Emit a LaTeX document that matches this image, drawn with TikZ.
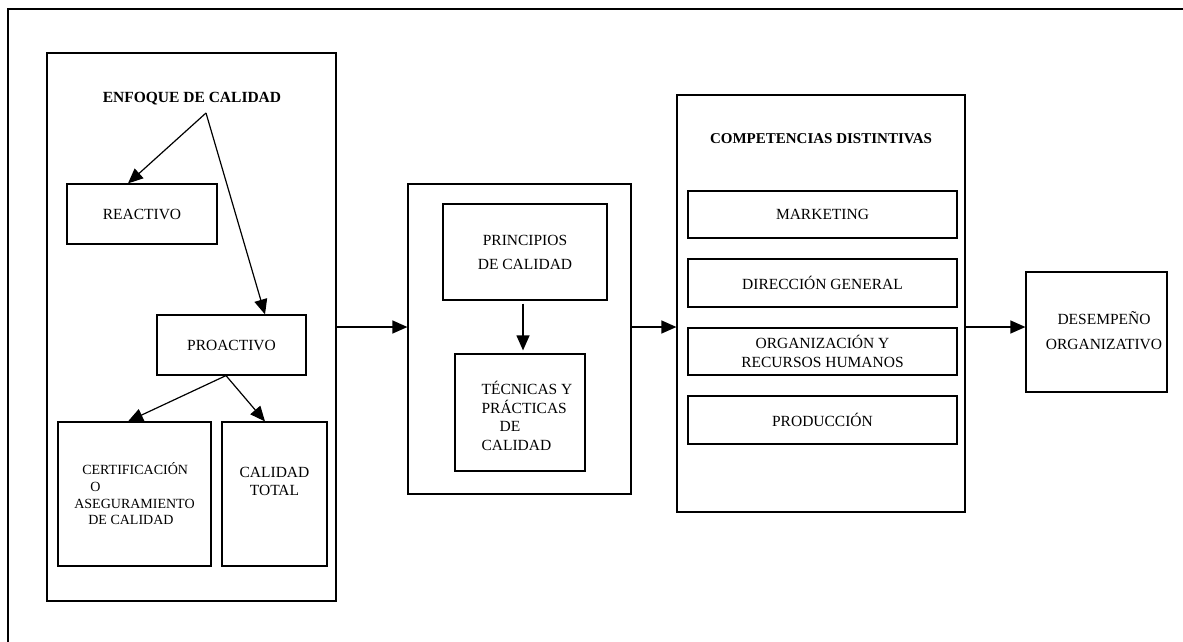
\documentclass[tikz,border=0pt]{standalone}
\usepackage{fontspec}
\setmainfont{Liberation Serif}
\usetikzlibrary{arrows.meta}
\begin{document}
\begin{tikzpicture}[x=1pt,y=-1pt,
  box/.style={draw, line width=1.2pt, inner sep=0pt, align=center,
    font=\fontsize{15.5}{19}\selectfont},
  txt/.style={inner sep=0pt, font=\fontsize{15.5}{19}\selectfont},
  title/.style={inner sep=0pt, font=\fontsize{15.5}{18}\selectfont\bfseries},
  arr/.style={-{Triangle[length=15pt,width=13pt]}, line width=1.2pt},
]
\useasboundingbox (0,0) rectangle (1183,642);
% page frame (open on the right and bottom)
\draw[line width=2.4pt] (8,642) -- (8,9) -- (1183,9);

% quality approach block
\node[box, minimum width=289pt, minimum height=548pt] (L) at (191.5,327) {};
\node[title] (EQ) at (192,99) {ENFOQUE DE CALIDAD};
\coordinate (apex) at (206,113);
\node[box, minimum width=150pt, minimum height=60pt] (REA) at (142,214) {REACTIVO};
\node[box, minimum width=149pt, minimum height=60pt] (PRO) at (231.5,345) {PROACTIVO};
\node[box, minimum width=153pt, minimum height=144pt, align=left,
  font=\fontsize{14}{16.7}\selectfont] (CERT) at (134.5,494)
  {\hspace*{8pt}CERTIFICACIÓN\\ \hspace*{16pt}O\\ ASEGURAMIENTO\\ \hspace*{14pt}DE CALIDAD};
\node[box, minimum width=105pt, minimum height=144pt] (CT) at (274.5,494)
  {CALIDAD\\[-0.5pt] TOTAL\\[6pt]};

\draw[arr] (apex) -- ([xshift=-14pt]REA.north);
\draw[arr] (apex) -- ([xshift=33.5pt]PRO.north);
\draw[arr] ([xshift=-5.5pt]PRO.south) -- ([xshift=-6.5pt]CERT.north);
\draw[arr] ([xshift=-5.5pt]PRO.south) -- ([xshift=-9.5pt]CT.north);

% principles and techniques block
\node[box, minimum width=223pt, minimum height=310pt] (M) at (519.5,339) {};
\node[box, minimum width=164pt, minimum height=96pt,
  font=\fontsize{15.5}{24}\selectfont] (PRIN) at (525,252) {PRINCIPIOS\\ DE CALIDAD};
\node[box, minimum width=130pt, minimum height=117pt] (TEC) at (520,412.5) {};
\node[txt, align=left, font=\fontsize{15.5}{18.7}\selectfont] (TECt) at (527,416)
  {TÉCNICAS Y\\ PRÁCTICAS\\ \hspace*{18pt}DE\\ CALIDAD};
\draw[arr, shorten <=3pt, shorten >=3pt] ([xshift=-2pt]PRIN.south) -- ([xshift=-2pt]PRIN.south |- TEC.north);

% distinctive competences block
\node[box, minimum width=288pt, minimum height=417pt] (C) at (821,303.5) {};
\node[title, font=\fontsize{15}{18}\selectfont\bfseries] (CD) at (821,139) {COMPETENCIAS DISTINTIVAS};
\node[box, minimum width=269pt, minimum height=47pt] (MKT) at (822.5,214.5) {MARKETING};
\node[box, minimum width=269pt, minimum height=48pt] (DIR) at (822.5,283) {DIRECCIÓN GENERAL};
\node[box, minimum width=269pt, minimum height=47pt] (ORG) at (822.5,351.5) {ORGANIZACIÓN Y\\ RECURSOS HUMANOS};
\node[box, minimum width=269pt, minimum height=48pt] (PROD) at (822.5,420) {PRODUCCIÓN};

% organisational performance
\node[box, minimum width=141pt, minimum height=120pt] (DES) at (1096.5,332) {};
\node[txt, align=center, font=\fontsize{15.5}{25}\selectfont] (DESt) at (1104,331)
  {DESEMPEÑO\\ ORGANIZATIVO};

% flow between blocks
\draw[arr] (L.east) -- (L.east -| M.west);
\draw[arr] (L.east -| M.east) -- (L.east -| C.west);
\draw[arr] (L.east -| C.east) -- (L.east -| DES.west);
\end{tikzpicture}
\end{document}
